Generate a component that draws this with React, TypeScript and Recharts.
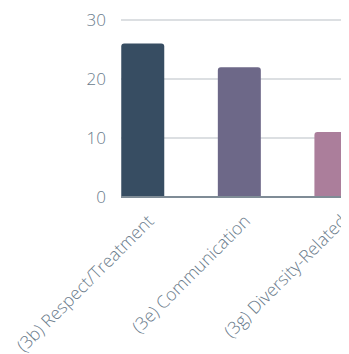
import React from "react";
import { BarChart, Bar, XAxis, YAxis, CartesianGrid, Cell } from "recharts";

const categories = ["(3b) Respect/Treatment", "(3e) Communication", "(3g) Diversity-Related"];
const values = [26, 22, 11];
const colors = ["#374d62", "#6d6888", "#ab7e9b"];
const yTicks = [0, 10, 20, 30];

const data = categories.map((name, i) => ({ name, value: values[i] }));

const FONT = "'Open Sans', sans-serif";
const TEXT = "#6a7b8b";

const XTick = (props: any) => {
  const { x, y, payload } = props;
  return (
    <g transform={`translate(${x + 3.5},${y + 16.5})`}>
      <text
        transform="rotate(-45)"
        textAnchor="end"
        dy="0.71em"
        fill={TEXT}
        fontSize={17.5}
        fontWeight={300}
        fontFamily={FONT}
      >
        {payload.value}
      </text>
    </g>
  );
};

export default function App() {
  return (
    <div style={{ width: 341, height: 346, overflow: "hidden", position: "relative" }}>
      <BarChart
        width={376}
        height={346}
        data={data}
        margin={{ top: 12, right: 0, left: 0, bottom: 0 }}
        barSize={43}
      >
        <CartesianGrid vertical={false} stroke="#d0d4d9" strokeWidth={1.5} />
        <XAxis
          dataKey="name"
          height={157}
          interval={0}
          tickLine={false}
          tickSize={0}
          tickMargin={0}
          axisLine={{ stroke: "#7f8c96", strokeWidth: 2 }}
          padding={{ left: -26.75, right: 0 }}
          tick={<XTick />}
        />
        <YAxis
          width={113}
          domain={[0, 30]}
          ticks={yTicks}
          tickLine={false}
          axisLine={false}
          tickSize={6}
          tickMargin={9}
          tick={{ fill: TEXT, fontSize: 17, fontWeight: 300, fontFamily: FONT }}
        />
        <Bar dataKey="value" isAnimationActive={false} radius={[3, 3, 0, 0]}>
          {data.map((d, i) => (
            <Cell key={d.name} fill={colors[i]} />
          ))}
        </Bar>
      </BarChart>
    </div>
  );
}
